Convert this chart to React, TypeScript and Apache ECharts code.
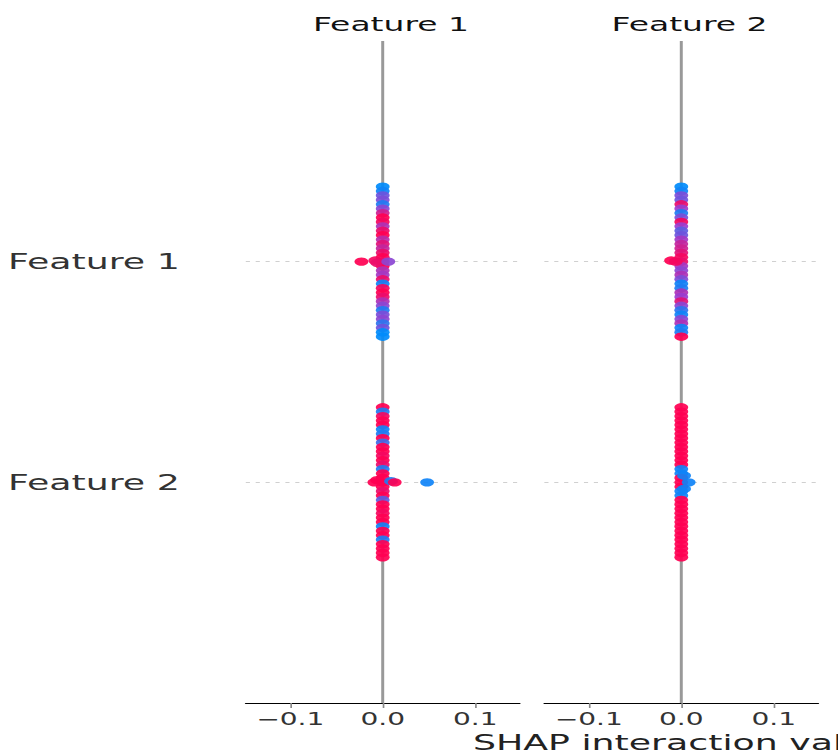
import React, { useEffect, useRef } from "react";
import * as echarts from "echarts";

// ---- data ----
const panelTitles = ["Feature 1", "Feature 2"];
const rowLabels = ["Feature 1", "Feature 2"];
const rowPositions = [1, 0];
const xTicks = [-0.1, 0, 0.1];
const xTickLabels = ["\u22120.1", "0.0", "0.1"];
const xTitle = "SHAP interaction value";

// vertical jitter offsets of stacked points (in row units)
const offsets = [
  0.34, 0.32, 0.30, 0.28, 0.26, 0.24, 0.22, 0.20, 0.18, 0.16, 0.14, 0.12,
  0.10, 0.08, 0.06, 0.04, 0.02, 0.0, -0.02, -0.04, -0.06, -0.08, -0.10,
  -0.12, -0.14, -0.16, -0.18, -0.20, -0.22, -0.24, -0.26, -0.28, -0.30,
  -0.32, -0.34,
];

// feature values (0 = low/blue, 1 = high/red) of the stacked points
const p1f1Colors = [
  0, 0.05, 0.35, 0.4, 0.1, 0.45, 0.75, 1, 0.95, 0.6, 0.9, 1, 0.65, 0.85,
  0.7, 0.9, 1, 0.9, 1, 0.6, 0.55, 0.9, 0.05, 0.95, 1, 0.9, 0.6, 0.45, 0.1,
  0.4, 0.45, 0.15, 0.35, 0, 0,
];
const p1f2Colors = [
  1, 0.1, 0.95, 1, 1, 0.05, 0.1, 1, 0.2, 1, 1, 0.95, 1, 0.9, 0.1, 1, 1, 1,
  1, 0.9, 1, 0.3, 1, 1, 0.95, 1, 1, 0.05, 1, 1, 0.1, 1, 1, 1, 1,
];
const p2f1Colors = [
  0, 0.05, 0.4, 0.35, 0.9, 0.5, 0.1, 0.4, 0.95, 0.5, 0.3, 0.35, 0.55, 0.7,
  0.75, 0.85, 0.95, 0.9, 0.55, 0.45, 0.6, 0.4, 0.05, 0.1, 0.6, 0.5, 0.85,
  0.45, 0.15, 0.05, 0.45, 0.6, 0.05, 0.1, 1,
];
const p2f2Colors = [
  1, 1, 1, 1, 1, 1, 1, 1, 1, 1, 1, 1, 1, 1, 0.05, 0.05, 1, 1, 1, 0.05, 0.05,
  1, 1, 1, 1, 1, 1, 1, 1, 1, 1, 1, 1, 1, 1,
];

// points off the zero line: [shap value, vertical jitter, feature value]
const p1f1Outliers = [
  [-0.023, 0.0, 1],
  [-0.008, 0.005, 0.95],
  [-0.006, -0.005, 0.9],
  [0.006, 0.0, 0.45],
];
const p1f2Outliers = [
  [-0.009, 0.0, 1],
  [-0.006, 0.01, 1],
  [0.009, 0.005, 0.1],
  [0.013, 0.0, 1],
  [0.048, 0.0, 0.05],
];
const p2f1Outliers = [
  [-0.011, 0.005, 1],
  [-0.006, 0.0, 0.95],
];
const p2f2Outliers = [
  [0.008, 0.0, 0.05],
  [0.003, 0.03, 0.05],
  [0.003, -0.03, 0.05],
];

// ---- layout (internal, before horizontal stretch) ----
const INNER_W = 508;
const STRETCH = 838 / INNER_W;
const FONT = "DejaVu Sans";

function stripData(colors: number[], row: number, outliers: number[][]) {
  const pts = offsets.map((o, i) => [0, row + o, colors[i]]);
  const outs = outliers.map((p) => [p[0], row + p[1], p[2]]);
  return pts.concat(outs);
}

function buildOption() {
  const grids = [
    { left: 149, width: 166, top: 41, height: 662 },
    { left: 330, width: 166, top: 41, height: 662 },
  ];
  const xAxes = grids.map((_, i) => ({
    type: "value",
    gridIndex: i,
    min: -0.148,
    max: 0.148,
    axisLine: { show: true, onZero: false, lineStyle: { color: "#000", width: 1.2 } },
    axisTick: {
      show: true,
      customValues: xTicks,
      length: 5,
      lineStyle: { color: "#888", width: 1 },
    },
    axisLabel: {
      customValues: xTicks,
      formatter: (v: number) => xTickLabels[xTicks.findIndex((t) => Math.abs(t - v) < 1e-9)] ?? "",
      fontFamily: FONT,
      fontSize: 17,
      color: "#333",
      margin: 7,
    },
    splitLine: { show: false },
  }));
  const yAxes = grids.map((_, i) => ({
    type: "value",
    gridIndex: i,
    min: -1,
    max: 2,
    axisLine: { show: false, onZero: false },
    axisTick: { show: false },
    splitLine: { show: false },
    axisLabel: {
      show: i === 0,
      customValues: rowPositions,
      formatter: (v: number) => rowLabels[rowPositions.indexOf(Math.round(v))] ?? "",
      fontFamily: FONT,
      fontSize: 22,
      color: "#333",
      margin: 40,
    },
  }));

  const refLines = () => ({
    silent: true,
    symbol: ["none", "none"],
    label: { show: false },
    z: 1,
    data: [
      {
        xAxis: 0,
        lineStyle: { color: "#999", width: 1.8, type: "solid" },
      },
      ...rowPositions.map((r) => ({
        yAxis: r,
        lineStyle: { color: "#d0d0d0", width: 1, type: [2.5, 3.5] },
      })),
    ],
  });

  const panels = [
    [stripData(p1f1Colors, 1, p1f1Outliers), stripData(p1f2Colors, 0, p1f2Outliers)],
    [stripData(p2f1Colors, 1, p2f1Outliers), stripData(p2f2Colors, 0, p2f2Outliers)],
  ];

  const series: any[] = [];
  panels.forEach((rows, i) => {
    rows.forEach((data, j) => {
      series.push({
        type: "scatter",
        xAxisIndex: i,
        yAxisIndex: i,
        data,
        symbol: "circle",
        symbolSize: 8.4,
        itemStyle: { opacity: 0.92 },
        z: 3,
        silent: true,
        markLine: j === 0 ? refLines() : undefined,
      });
    });
  });

  return {
    animation: false,
    backgroundColor: "#fff",
    title: panelTitles.map((t, i) => ({
      text: t,
      left: grids[i].left + grids[i].width / 2,
      textAlign: "center",
      top: 9,
      textStyle: { fontFamily: FONT, fontSize: 20, fontWeight: "normal", color: "#111" },
    })),
    grid: grids,
    xAxis: xAxes,
    yAxis: yAxes,
    visualMap: {
      type: "continuous",
      show: false,
      dimension: 2,
      min: 0,
      max: 1,
      seriesIndex: [0, 1, 2, 3],
      inRange: { color: ["#008bfb", "#9a3dcf", "#ff0052"] },
    },
    graphic: [
      {
        type: "text",
        left: 286.7,
        top: 731,
        style: {
          text: xTitle,
          fontFamily: FONT,
          fontSize: 22,
          fill: "#222",
        },
      },
    ],
    series,
  };
}

export default function App() {
  const ref = useRef<HTMLDivElement>(null);
  useEffect(() => {
    if (!ref.current) return;
    const chart = echarts.init(ref.current, null, { renderer: "svg" });
    chart.setOption(buildOption() as any);
    return () => chart.dispose();
  }, []);
  return (
    <div
      style={{
        position: "fixed",
        left: 0,
        top: 0,
        width: 838,
        height: 756,
        overflow: "hidden",
        background: "#fff",
      }}
    >
      <div
        ref={ref}
        style={{
          width: INNER_W,
          height: 756,
          transform: `scaleX(${STRETCH})`,
          transformOrigin: "0 0",
        }}
      />
    </div>
  );
}
